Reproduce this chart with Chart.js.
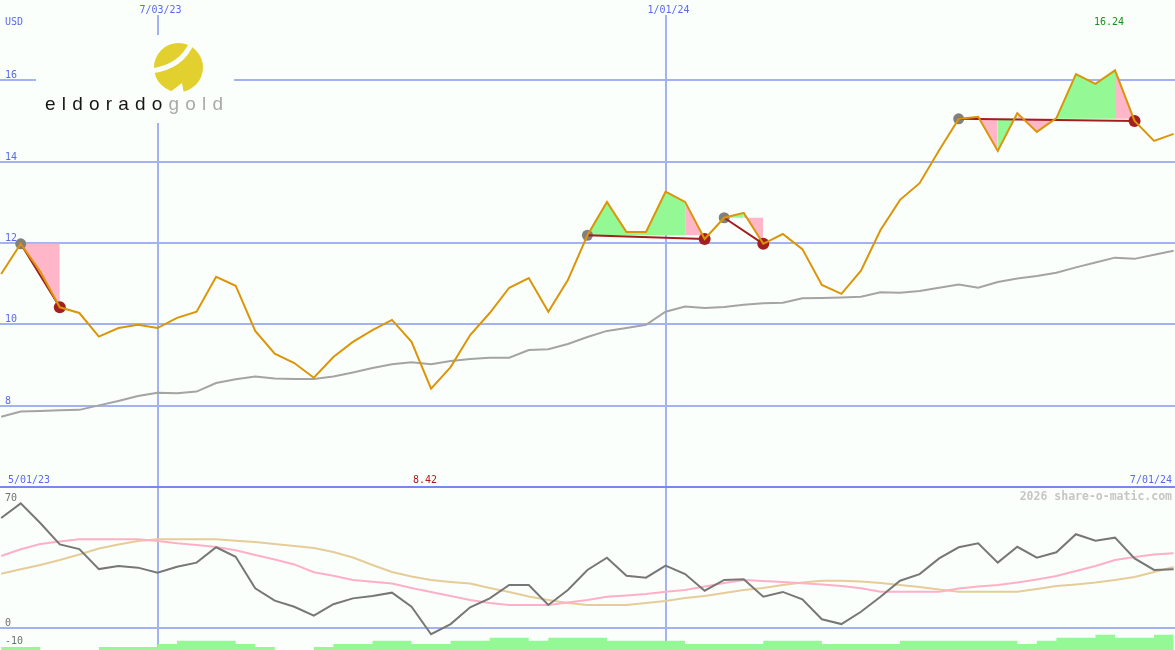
<!DOCTYPE html>
<html>
<head>
<meta charset="utf-8">
<title>Eldorado Gold weekly chart</title>
<script src="https://cdn.jsdelivr.net/npm/chart.js@4.4.1/dist/chart.umd.min.js"></script>
<style>
  html, body { margin: 0; padding: 0; background: #fbfffb; }
  #wrap { position: relative; width: 1175px; height: 650px; }
</style>
</head>
<body>
<div id="wrap"><canvas id="chart" width="1175" height="650"></canvas></div>
<script>
'use strict';

// x = weeks counted from 5/01/23
const weeks = Array.from({ length: 61 }, (_, i) => i + 1);

const closePrice = [
  11.24, 11.98, 11.30, 10.42, 10.28, 9.70, 9.91, 9.99, 9.91, 10.16,
  10.31, 11.17, 10.95, 9.84, 9.28, 9.05, 8.69, 9.20, 9.57, 9.86,
  10.11, 9.57, 8.42, 8.95, 9.74, 10.28, 10.90, 11.14, 10.31, 11.09,
  12.19, 13.01, 12.27, 12.27, 13.26, 13.01, 12.10, 12.62, 12.74, 11.98,
  12.22, 11.85, 10.97, 10.75, 11.32, 12.32, 13.06, 13.47, 14.28, 15.05,
  15.10, 14.26, 15.19, 14.73, 15.07, 16.15, 15.91, 16.24, 15.00, 14.51,
  14.68
];

const movingAvg = [
  7.73, 7.86, 7.87, 7.89, 7.90, 8.01, 8.12, 8.24, 8.32, 8.31,
  8.35, 8.56, 8.65, 8.72, 8.67, 8.66, 8.66, 8.72, 8.82, 8.93,
  9.02, 9.07, 9.02, 9.10, 9.15, 9.18, 9.18, 9.37, 9.39, 9.52,
  9.69, 9.84, 9.91, 9.99, 10.31, 10.44, 10.40, 10.43, 10.48, 10.52,
  10.53, 10.64, 10.65, 10.66, 10.68, 10.79, 10.78, 10.82, 10.90, 10.98,
  10.90, 11.04, 11.13, 11.19, 11.27, 11.40, 11.52, 11.64, 11.61, 11.71,
  11.81
];

const oscillator = [
  61.6, 69.8, 58.8, 46.8, 44.2, 33.0, 34.7, 33.8, 31.0, 34.3,
  36.6, 45.2, 39.9, 22.2, 15.3, 11.9, 6.9, 13.3, 16.6, 17.9,
  19.8, 11.9, -3.5, 2.2, 11.6, 16.6, 24.1, 24.1, 12.9, 21.3,
  32.5, 39.4, 29.3, 28.2, 34.9, 30.2, 20.9, 26.9, 27.3, 17.5,
  20.2, 16.1, 4.9, 2.2, 9.1, 17.5, 26.5, 30.2, 39.0, 45.2,
  47.4, 36.6, 45.5, 39.4, 42.4, 52.5, 48.9, 50.6, 39.0, 32.5,
  32.9
];

const oscFast = [
  40.3, 44.1, 47.0, 48.4, 49.7, 49.7, 49.7, 49.7, 48.7, 47.4,
  46.5, 45.4, 43.5, 40.9, 38.4, 35.6, 31.2, 29.3, 26.9, 25.9,
  24.9, 22.4, 20.2, 17.9, 15.7, 14.0, 12.9, 12.9, 12.9, 14.3,
  15.7, 17.5, 18.2, 19.0, 20.3, 21.3, 23.2, 25.2, 26.9, 26.3,
  25.8, 25.0, 24.4, 23.5, 22.2, 20.3, 20.3, 20.3, 20.3, 22.1,
  23.2, 24.1, 25.5, 27.2, 29.1, 31.9, 34.7, 38.1, 39.8, 41.2,
  41.8
];

const oscSlow = [
  30.4, 32.9, 35.3, 38.1, 41.2, 44.5, 46.8, 48.7, 49.7, 49.7,
  49.7, 49.7, 48.9, 48.2, 47.0, 45.9, 44.8, 42.6, 39.5, 35.3,
  31.4, 28.8, 26.9, 25.8, 24.9, 22.4, 20.2, 17.6, 15.7, 14.0,
  12.9, 12.9, 12.9, 14.0, 15.1, 16.8, 17.9, 19.6, 21.3, 22.4,
  24.1, 25.5, 26.5, 26.5, 26.0, 25.2, 24.1, 23.0, 21.6, 20.3,
  20.3, 20.3, 20.3, 21.8, 23.5, 24.4, 25.5, 26.9, 28.6, 31.4,
  34.2
];

const volumeLevel = [
  1, 1, 0, 0, 0, 1, 1, 1, 2, 3,
  3, 3, 2, 1, 0, 0, 1, 2, 2, 3,
  3, 2, 2, 3, 3, 4, 4, 3, 4, 4,
  4, 3, 3, 3, 3, 2, 2, 2, 2, 3,
  3, 3, 2, 2, 2, 2, 3, 3, 3, 3,
  3, 3, 2, 3, 4, 4, 5, 4, 4, 5,
  5
];

const dateTicks = [9, 35];
const dateLabels = ['7/03/23', '1/01/24'];
const rangeLabels = ['5/01/23', '7/01/24'];
const priceTicks = [8, 10, 12, 14, 16];
const panelDivider = 6;
const lowerTicks = [70, 0, -10];

const tradeEntry = [2, 31, 38, 50];
const tradeExit = [4, 37, 40, 59];
const tradeMoves = ['--', '+++++-', '+-', '+-+--+++-'];

const BG = '#fbfffb';
const GRID = '#a4b2f2';
const DIVIDER = '#7786f0';
const LABEL = '#5a68f0';
const MONO = '10px "DejaVu Sans Mono", monospace';

const priceAt = k => closePrice[weeks.indexOf(k)];
const series = values => weeks.map((k, i) => ({ x: k, y: values[i] }));

const fillSets = [];
tradeEntry.forEach((entry, t) => {
  const ref = priceAt(entry);
  const moves = tradeMoves[t];
  let start = 0;
  for (let j = 1; j <= moves.length; j++) {
    if (j === moves.length || moves[j] !== moves[start]) {
      const pts = [];
      for (let k = entry + start; k <= entry + j; k++) {
        pts.push({ x: k, y: priceAt(k) });
      }
      fillSets.push({
        data: pts,
        yAxisID: 'y',
        borderWidth: 0,
        borderColor: 'transparent',
        backgroundColor: moves[start] === '+' ? '#94f894' : '#ffb6c8',
        fill: { target: { value: ref } },
        order: 3
      });
      start = j;
    }
  }
});

const tradeLine = [];
tradeEntry.forEach((entry, t) => {
  tradeLine.push({ x: entry, y: priceAt(entry) });
  tradeLine.push({ x: tradeExit[t], y: priceAt(tradeExit[t]) });
  tradeLine.push({ x: tradeExit[t], y: null });
});

function drawSpaced(ctx, text, x, y, gap) {
  let cx = x;
  for (const ch of text) {
    ctx.fillText(ch, cx, y);
    cx += ctx.measureText(ch).width + gap;
  }
  return cx;
}

function drawLogo(ctx) {
  ctx.save();
  ctx.fillStyle = BG;
  ctx.fillRect(36, 35, 198, 88);

  ctx.fillStyle = '#e2d02e';
  ctx.beginPath();
  ctx.arc(178.5, 67.5, 24.5, 0, Math.PI * 2);
  ctx.fill();

  // white band of the "e"
  ctx.strokeStyle = BG;
  ctx.lineWidth = 5;
  ctx.beginPath();
  ctx.moveTo(151, 71);
  ctx.quadraticCurveTo(182, 67, 192, 42);
  ctx.stroke();

  // opening at the bottom left
  ctx.fillStyle = BG;
  ctx.beginPath();
  ctx.moveTo(169, 93);
  ctx.lineTo(182, 83);
  ctx.lineTo(184, 94);
  ctx.closePath();
  ctx.fill();

  ctx.font = '19px "Liberation Sans", Arial, sans-serif';
  ctx.textAlign = 'left';
  ctx.textBaseline = 'alphabetic';
  ctx.fillStyle = '#151515';
  const next = drawSpaced(ctx, 'eldorado', 45, 110, 6.2);
  ctx.fillStyle = '#a9a9a9';
  drawSpaced(ctx, 'gold', next, 110, 6.2);
  ctx.restore();
}

const overlay = {
  id: 'overlay',
  beforeDatasetsDraw(chart) {
    drawLogo(chart.ctx);
  },
  afterDatasetsDraw(chart) {
    const ctx = chart.ctx;
    const xs = chart.scales.x;
    const ys = chart.scales.y;
    const ys2 = chart.scales.y2;
    ctx.save();
    ctx.font = MONO;
    ctx.textBaseline = 'alphabetic';

    dateTicks.forEach((k, i) => {
      const px = xs.getPixelForValue(k) + 3;
      const w = ctx.measureText(dateLabels[i]).width;
      ctx.fillStyle = BG;
      ctx.fillRect(px - w / 2 - 6, 0, w + 12, 15);
      ctx.fillStyle = LABEL;
      ctx.textAlign = 'center';
      ctx.fillText(dateLabels[i], px, 13);
    });

    ctx.textAlign = 'left';
    ctx.fillStyle = LABEL;
    ctx.fillText('USD', 5, 25);
    priceTicks.forEach(v => {
      ctx.fillText(String(v), 5, ys.getPixelForValue(v) - 2);
    });
    ctx.fillText(rangeLabels[0], 8, 483);
    ctx.textAlign = 'right';
    ctx.fillText(rangeLabels[1], 1172, 483);

    ctx.textAlign = 'left';
    ctx.fillStyle = '#707070';
    lowerTicks.forEach(v => {
      ctx.fillText(String(v), 5, ys2.getPixelForValue(v) - 2);
    });

    const lo = Math.min(...closePrice);
    const hi = Math.max(...closePrice);
    const kLo = weeks[closePrice.indexOf(lo)];
    const kHi = weeks[closePrice.indexOf(hi)];
    ctx.textAlign = 'center';
    ctx.fillStyle = '#a51e1e';
    ctx.fillText(lo.toFixed(2), xs.getPixelForValue(kLo) - 6, 483);
    ctx.fillStyle = '#149414';
    ctx.fillText(hi.toFixed(2), xs.getPixelForValue(kHi) - 6, 25);

    ctx.font = 'bold 11.5px "DejaVu Sans Mono", monospace';
    ctx.textAlign = 'right';
    ctx.fillStyle = '#c6c6c6';
    ctx.fillText('2026 share-o-matic.com', 1172, 500);
    ctx.restore();
  }
};

const hiddenTicks = { display: false };

new Chart(document.getElementById('chart'), {
  type: 'line',
  data: {
    datasets: [
      {
        data: series(closePrice),
        yAxisID: 'y',
        borderColor: '#db9508',
        borderWidth: 2,
        pointRadius: 0,
        fill: false,
        order: 0
      },
      {
        data: tradeLine,
        yAxisID: 'y',
        borderColor: '#a31f1f',
        borderWidth: 2,
        pointRadius: 0,
        fill: false,
        order: 1
      },
      {
        data: tradeEntry.map(k => ({ x: k, y: priceAt(k) })),
        yAxisID: 'y',
        showLine: false,
        pointRadius: 5.5,
        pointBorderWidth: 0,
        pointBackgroundColor: '#808080',
        order: 2
      },
      {
        data: tradeExit.map(k => ({ x: k, y: priceAt(k) })),
        yAxisID: 'y',
        showLine: false,
        pointRadius: 6,
        pointBorderWidth: 0,
        pointBackgroundColor: '#a31f1f',
        order: 2
      },
      ...fillSets,
      {
        data: series(movingAvg),
        yAxisID: 'y',
        borderColor: '#a4a4a4',
        borderWidth: 2,
        pointRadius: 0,
        fill: false,
        order: 4
      },
      {
        data: series(oscillator),
        yAxisID: 'y2',
        borderColor: '#777777',
        borderWidth: 2,
        pointRadius: 0,
        fill: false,
        order: 0
      },
      {
        data: series(oscFast),
        yAxisID: 'y2',
        borderColor: '#ffb0c6',
        borderWidth: 2,
        pointRadius: 0,
        fill: false,
        order: 1
      },
      {
        data: series(oscSlow),
        yAxisID: 'y2',
        borderColor: '#e6cc98',
        borderWidth: 2,
        pointRadius: 0,
        fill: false,
        order: 2
      },
      {
        data: series(volumeLevel),
        yAxisID: 'yv',
        stepped: true,
        borderWidth: 0,
        borderColor: 'transparent',
        backgroundColor: '#94f894',
        pointRadius: 0,
        fill: 'start',
        order: 5
      }
    ]
  },
  options: {
    responsive: false,
    animation: false,
    devicePixelRatio: 1,
    events: [],
    layout: { padding: 0, autoPadding: false },
    elements: { line: { tension: 0 }, point: { radius: 0 } },
    plugins: {
      legend: { display: false },
      tooltip: { enabled: false }
    },
    scales: {
      x: {
        type: 'linear',
        min: 0.94,
        max: 61.07,
        afterBuildTicks: scale => {
          scale.ticks = dateTicks.map(v => ({ value: v }));
        },
        ticks: hiddenTicks,
        grid: { color: GRID, lineWidth: 2, drawTicks: false },
        border: { display: false }
      },
      y: {
        type: 'linear',
        position: 'left',
        min: 2.0,
        max: 17.97,
        afterBuildTicks: scale => {
          scale.ticks = [panelDivider, ...priceTicks].map(v => ({ value: v }));
        },
        ticks: hiddenTicks,
        grid: {
          color: c => (c.tick && c.tick.value === panelDivider ? DIVIDER : GRID),
          lineWidth: 2,
          drawTicks: false
        },
        border: { display: false }
      },
      y2: {
        type: 'linear',
        position: 'left',
        min: -12.32,
        max: 351.7,
        afterBuildTicks: scale => {
          scale.ticks = lowerTicks.map(v => ({ value: v }));
        },
        ticks: hiddenTicks,
        grid: {
          color: c => (c.tick && c.tick.value === 0 ? GRID : 'rgba(0,0,0,0)'),
          lineWidth: 2,
          drawTicks: false
        },
        border: { display: false }
      },
      yv: {
        type: 'linear',
        display: false,
        min: 0,
        max: 213
      }
    }
  },
  plugins: [overlay]
});
</script>
</body>
</html>
